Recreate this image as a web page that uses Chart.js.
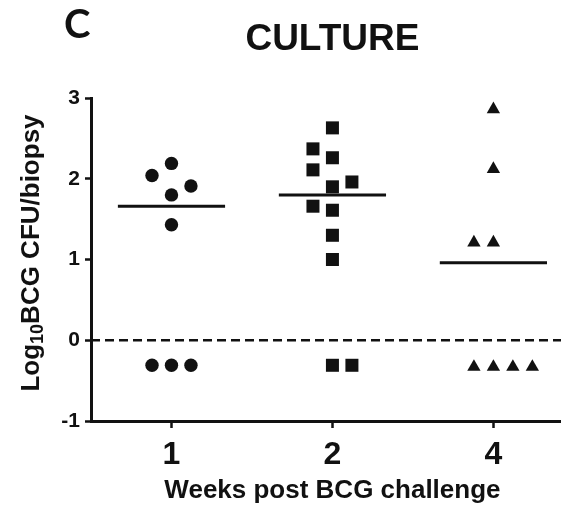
<!DOCTYPE html>
<html lang="en">
<head>
    <meta charset="UTF-8">
    <title>Culture</title>
    <script src="https://cdn.jsdelivr.net/npm/chart.js"></script>
    <style>
        body { margin: 0; background: #fff; }
        canvas { display: block; }
    </style>
</head>
<body>
    <canvas id="cultureChart" width="561" height="512"></canvas>

    <script>
        // weeks post challenge, drawn at evenly spaced positions 1, 2, 3
        var weekLabels = ['1', '2', '4'];
        var weekPositions = [1, 2, 3];

        // log10 CFU per biopsy
        var week1Values = [2.19, 2.04, 1.91, 1.80, 1.43, -0.31, -0.31, -0.31];
        var week2Values = [2.63, 2.37, 2.26, 2.11, 1.96, 1.90, 1.66, 1.61, 1.30, 1.00, -0.31, -0.31];
        var week4Values = [2.86, 2.12, 1.21, 1.21, -0.33, -0.33, -0.33, -0.33];

        // side-by-side column of each point (scatter spread), 0 = centre
        var week1Columns = [0, -1, 1, 0, 0, -1, 0, 1];
        var week2Columns = [0, -1, 0, -1, 1, 0, -1, 0, 0, 0, 0, 1];
        var week4Columns = [0, 0, -1, 0, -1, 0, 1, 2];

        // horizontal summary line of each group
        var groupLines = [1.66, 1.80, 0.96];

        var yTicks = [-1, 0, 1, 2, 3];

        var columnStep = 0.121;
        var lineHalfWidth = 0.333;
        var xMin = 0.5, xMax = 3.42;

        var fontFamily = "Arial, 'Liberation Sans', sans-serif";
        var ink = '#111';

        function toPoints(pos, values, columns) {
            return values.map(function (v, i) {
                return { x: pos + columns[i] * columnStep, y: v };
            });
        }

        var datasets = [];

        // dashed line at zero
        datasets.push({
            data: [{ x: xMin, y: 0 }, { x: xMax, y: 0 }],
            showLine: true,
            borderColor: ink,
            borderWidth: 2.5,
            borderDash: [9, 5],
            pointRadius: 0
        });

        // group lines
        groupLines.forEach(function (v, i) {
            datasets.push({
                data: [{ x: weekPositions[i] - lineHalfWidth, y: v }, { x: weekPositions[i] + lineHalfWidth, y: v }],
                showLine: true,
                borderColor: ink,
                borderWidth: 3,
                pointRadius: 0
            });
        });

        datasets.push({
            data: toPoints(weekPositions[0], week1Values, week1Columns),
            pointStyle: 'circle',
            pointRadius: 6.7,
            backgroundColor: ink,
            borderWidth: 0
        });
        datasets.push({
            data: toPoints(weekPositions[1], week2Values, week2Columns),
            pointStyle: 'rect',
            pointRadius: 9.2,
            backgroundColor: ink,
            borderWidth: 0
        });
        datasets.push({
            data: toPoints(weekPositions[2], week4Values, week4Columns),
            pointStyle: 'triangle',
            pointRadius: 7.7,
            backgroundColor: ink,
            borderWidth: 0
        });

        // titles and panel letter
        var labelsPlugin = {
            id: 'labels',
            afterDraw: function (chart) {
                var ctx = chart.ctx;
                var xs = chart.scales.x;
                var mid = xs.getPixelForValue(weekPositions[1]);
                ctx.save();
                ctx.fillStyle = ink;
                ctx.textBaseline = 'alphabetic';

                ctx.textAlign = 'left';
                ctx.font = "bold 40px Lato, " + fontFamily;
                ctx.fillText('C', 64, 38);

                ctx.textAlign = 'center';
                ctx.font = 'bold 37px ' + fontFamily;
                ctx.fillText('CULTURE', mid, 50);

                ctx.font = 'bold 26px ' + fontFamily;
                ctx.fillText('Weeks post BCG challenge', mid, 498);

                // y title with subscript
                var big = 'bold 26px ' + fontFamily;
                var small = 'bold 18px ' + fontFamily;
                ctx.font = big;
                var w1 = ctx.measureText('Log').width;
                var w3 = ctx.measureText('BCG CFU/biopsy').width;
                ctx.font = small;
                var w2 = ctx.measureText('10').width;
                var total = w1 + w2 + w3;

                ctx.translate(38.5, 253);
                ctx.rotate(-Math.PI / 2);
                ctx.textAlign = 'left';
                var sx = -total / 2;
                ctx.font = big;
                ctx.fillText('Log', sx, 0);
                ctx.font = small;
                ctx.fillText('10', sx + w1, 4);
                ctx.font = big;
                ctx.fillText('BCG CFU/biopsy', sx + w1 + w2, 0);
                ctx.restore();
            }
        };

        var ctx = document.getElementById('cultureChart').getContext('2d');
        var cultureChart = new Chart(ctx, {
            type: 'scatter',
            data: { datasets: datasets },
            options: {
                responsive: false,
                animation: false,
                devicePixelRatio: 1,
                layout: { autoPadding: false, padding: { top: 98, left: 0, right: 0, bottom: 0 } },
                plugins: {
                    legend: { display: false },
                    tooltip: { enabled: false }
                },
                scales: {
                    x: {
                        type: 'linear',
                        min: xMin,
                        max: xMax,
                        afterBuildTicks: function (scale) {
                            scale.ticks = weekPositions.map(function (v) { return { value: v }; });
                        },
                        afterFit: function (scale) {
                            scale.height = 91;
                            scale.paddingLeft = 0;
                            scale.paddingRight = 0;
                        },
                        ticks: {
                            autoSkip: false,
                            maxRotation: 0,
                            padding: 8,
                            color: ink,
                            font: { family: fontFamily, size: 32, weight: 'bold' },
                            callback: function (value, index) { return weekLabels[index]; }
                        },
                        grid: { drawOnChartArea: false, tickLength: 7, tickWidth: 2.5, tickColor: ink },
                        border: { display: true, color: ink, width: 3 }
                    },
                    y: {
                        min: yTicks[0],
                        max: yTicks[yTicks.length - 1],
                        afterBuildTicks: function (scale) {
                            scale.ticks = yTicks.map(function (v) { return { value: v }; });
                        },
                        afterFit: function (scale) {
                            scale.width = 91;
                            scale.paddingTop = 0;
                            scale.paddingBottom = 0;
                        },
                        ticks: {
                            padding: 5,
                            color: ink,
                            font: { family: fontFamily, size: 21, weight: 'bold' }
                        },
                        grid: { drawOnChartArea: false, tickLength: 6, tickWidth: 2.5, tickColor: ink },
                        border: { display: true, color: ink, width: 3 }
                    }
                }
            },
            plugins: [labelsPlugin]
        });
    </script>
</body>
</html>
